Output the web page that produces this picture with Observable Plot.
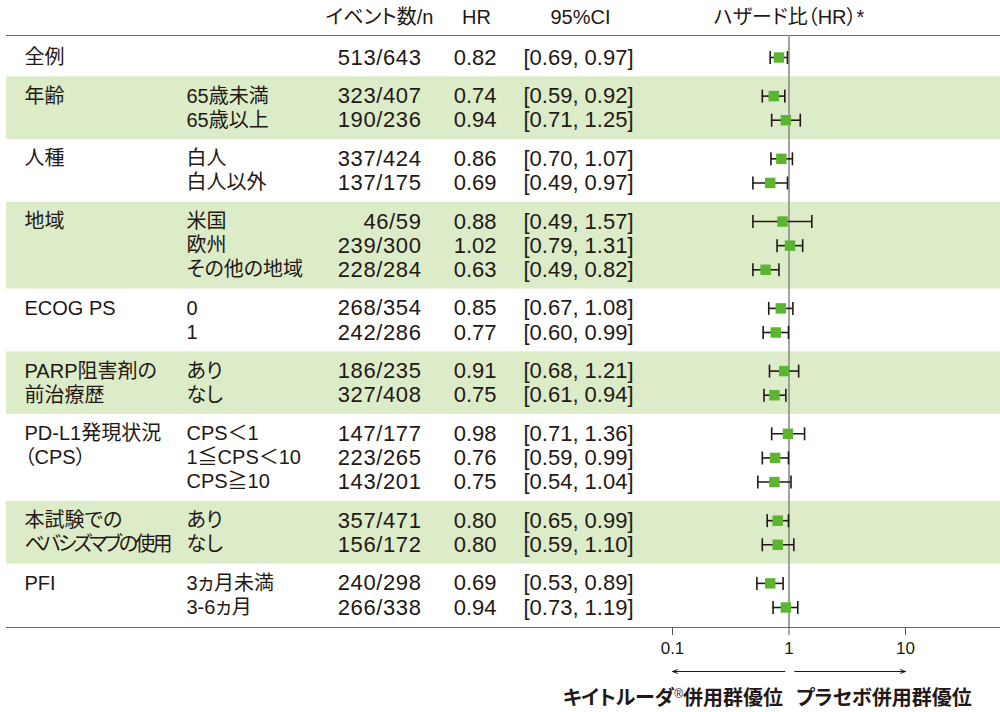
<!DOCTYPE html>
<html><head><meta charset="utf-8">
<script src="https://cdn.jsdelivr.net/npm/d3@7"></script>
<script src="https://cdn.jsdelivr.net/npm/@observablehq/plot@0.6"></script>
<style>
body{margin:0;background:#fff;}
#chart svg text{font-feature-settings:"palt" 1;}
</style></head><body><div id="chart"></div>
<script>
// ---- data ----
const groupLabels = ["全例","年齢","人種","地域","ECOG PS","PARP阻害剤の\n前治療歴","PD-L1発現状況\n（CPS）","本試験での\nベバシズマブの使用","PFI"];
const groupOf   = [0,1,1,2,2,3,3,3,4,4,5,5,6,6,6,7,7,8,8];
const subgroups = ["","65歳未満","65歳以上","白人","白人以外","米国","欧州","その他の地域","0","1","あり","なし","CPS＜1","1≦CPS＜10","CPS≧10","あり","なし","3ヵ月未満","3-6ヵ月"];
const events    = ["513/643","323/407","190/236","337/424","137/175","46/59","239/300","228/284","268/354","242/286","186/235","327/408","147/177","223/265","143/201","357/471","156/172","240/298","266/338"];
const hr        = [0.82,0.74,0.94,0.86,0.69,0.88,1.02,0.63,0.85,0.77,0.91,0.75,0.98,0.76,0.75,0.80,0.80,0.69,0.94];
const ciLow     = [0.69,0.59,0.71,0.70,0.49,0.49,0.79,0.49,0.67,0.60,0.68,0.61,0.71,0.59,0.54,0.65,0.59,0.53,0.73];
const ciHigh    = [0.97,0.92,1.25,1.07,0.97,1.57,1.31,0.82,1.08,0.99,1.21,0.94,1.36,0.99,1.04,0.99,1.10,0.89,1.19];
const headers   = ["イベント数/n","HR","95%CI","ハザード比（HR）*"];
const xTicks    = [0.1,1,10];
const favourLabels = ["キイトルーダ®併用群優位","プラセボ併用群優位"];
const arrowStarts = [0.92, 1.12];
const arrowEnds   = [0.1, 10];

// ---- layout ----
const W = 1000, H = 712;
const GAP = 0.6;
const rows = hr.map((h,i)=>({
  g: groupOf[i], pos: i + groupOf[i]*GAP, sub: subgroups[i], ev: events[i],
  hr: h, lo: ciLow[i], hi: ciHigh[i],
  hrText: h.toFixed(2),
  ci: `[${ciLow[i].toFixed(2)}, ${ciHigh[i].toFixed(2)}]`
}));
const groupLines = [];
const bands = [];
groupLabels.forEach((lab,g)=>{
  const gr = rows.filter(r=>r.g===g);
  lab.split("\n").forEach((t,k)=>groupLines.push({t, pos: gr[0].pos + k}));
  if (g % 2 === 1) bands.push({y1: gr[0].pos - (1+GAP)/2, y2: gr[gr.length-1].pos + (1+GAP)/2});
});
const pxPerRow = 24.12;
const hdrLine = -22/pxPerRow;
const bottomLine = rows[rows.length-1].pos + 20/pxPerRow;
const hdrTextY = hdrLine - 18/pxPerRow;
const arrowY = bottomLine + 44/pxPerRow;
const favourY = bottomLine + 71/pxPerRow;

const dec = 116.5, x01 = 672, mL = 6, mR = 0;
const xDomain = [10**(-1 - (x01 - mL)/dec), 10**(1 + (W - mR - (x01 + 2*dec))/dec)];

const ink = "#231815";
const capSymbol = {draw(ctx, size){ const h = Math.sqrt(size/Math.PI); ctx.moveTo(0,-h); ctx.lineTo(0,h); }};
const FS = 20, NFS = 22;

const plot = Plot.plot({
  width: W, height: H,
  marginLeft: mL, marginRight: mR, marginTop: 35, marginBottom: H - 627,
  style: {fontFamily: '"Liberation Sans","Noto Sans CJK JP",sans-serif', fontSize: "20px", color: ink, background: "#fff"},
  x: {type: "log", domain: xDomain},
  y: {domain: [hdrLine, bottomLine], reverse: true, axis: null},
  marks: [
    Plot.rect(bands, {y1: "y1", y2: "y2", fill: "#dcebc8"}),
    Plot.ruleY([hdrLine, bottomLine], {stroke: "#6b6b6b", strokeWidth: 1.2}),
    Plot.ruleX([1], {stroke: "#8c8c8c", strokeWidth: 1.6}),
    // CI bars
    Plot.ruleY(rows, {y: "pos", x1: "lo", x2: "hi", stroke: ink, strokeWidth: 1.6}),
    Plot.dot(rows, {x: "lo", y: "pos", symbol: capSymbol, r: 6.5, fill: "none", stroke: ink, strokeWidth: 1.6}),
    Plot.dot(rows, {x: "hi", y: "pos", symbol: capSymbol, r: 6.5, fill: "none", stroke: ink, strokeWidth: 1.6}),
    Plot.dot(rows, {x: "hr", y: "pos", symbol: "square", r: 5.9, fill: "#5bb531"}),
    // table text
    Plot.text(groupLines, {y: "pos", text: "t", frameAnchor: "left", dx: 18, textAnchor: "start", fontSize: FS, fill: ink}),
    Plot.text(rows, {y: "pos", text: "sub", frameAnchor: "left", dx: 180, textAnchor: "start", fontSize: FS, fill: ink}),
    Plot.text(rows, {y: "pos", text: "ev", frameAnchor: "left", dx: 415, textAnchor: "end", fontSize: NFS, fill: ink}),
    Plot.text(rows, {y: "pos", text: "hrText", frameAnchor: "left", dx: 490, textAnchor: "end", fontSize: NFS, fill: ink}),
    Plot.text(rows, {y: "pos", text: "ci", frameAnchor: "left", dx: 572, textAnchor: "middle", fontSize: NFS, fill: ink}),
    // headers
    Plot.text([headers[0]], {y: () => hdrTextY, text: d => d, frameAnchor: "left", dx: 373, textAnchor: "middle", fontSize: FS, fill: ink}),
    Plot.text([headers[1]], {y: () => hdrTextY, text: d => d, frameAnchor: "left", dx: 470, textAnchor: "middle", fontSize: FS, fill: ink}),
    Plot.text([headers[2]], {y: () => hdrTextY, text: d => d, frameAnchor: "left", dx: 574, textAnchor: "middle", fontSize: FS, fill: ink}),
    Plot.text([headers[3]], {x: () => 1, y: () => hdrTextY, text: d => d, textAnchor: "middle", fontSize: FS, fill: ink}),
    // axis
    Plot.axisX({ticks: xTicks, tickFormat: d => String(d), tickSize: 8, tickPadding: 6, fontSize: 17, label: null, color: ink, stroke: "#555"}),
    // arrows
    Plot.arrow(arrowStarts.map((s,i)=>({x1: s, x2: arrowEnds[i]})), {x1: "x1", x2: "x2", y1: () => arrowY, y2: () => arrowY, stroke: ink, strokeWidth: 1, headLength: 8, headAngle: 40}),
    Plot.text([favourLabels[0]], {x: () => 1, y: () => favourY, text: d => d, dx: -6, textAnchor: "end", fontSize: 20, fontWeight: "bold", fill: ink}),
    Plot.text([favourLabels[1]], {x: () => 1, y: () => favourY, text: d => d, dx: 7, textAnchor: "start", fontSize: 20, fontWeight: "bold", fill: ink})
  ]
});

const svg = d3.select(plot);
const evRe = /^\d+\/\d+$/;
svg.selectAll("text").each(function(){
  const el = d3.select(this);
  const s = el.text();
  el.style("font-feature-settings", '"palt" 1');
  if (evRe.test(s)) el.attr("letter-spacing", 0.6);
  if (s.includes("®")) {
    const parts = s.split("®");
    el.text(null);
    el.append("tspan").text(parts[0]);
    el.append("tspan").attr("font-size", 12).attr("font-weight", "normal").attr("dy", -7).text("®");
    el.append("tspan").attr("dy", 7).text(parts[1]);
  }
});
document.getElementById("chart").appendChild(plot);
// the reference sets this long kana label proportionally; tighten it if the font did not
svg.selectAll("text").each(function(){
  if (this.textContent === "ベバシズマブの使用") {
    const len = this.getComputedTextLength();
    const target = 145;
    if (len > target + 4) d3.select(this).attr("letter-spacing", -(len - target) / 9);
  }
});
</script>
</body></html>
